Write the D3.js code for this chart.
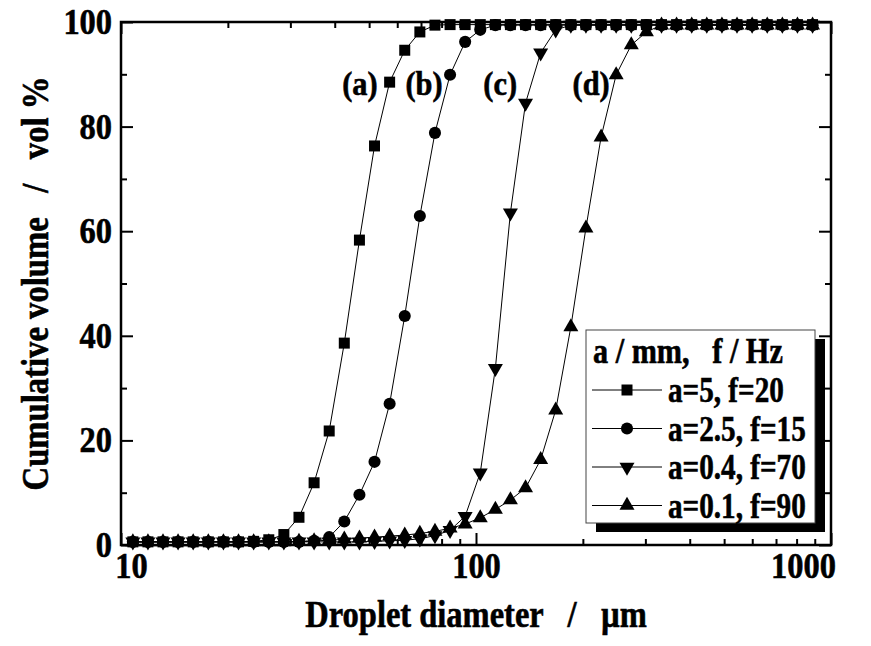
<!DOCTYPE html>
<html>
<head>
<meta charset="utf-8">
<script src="https://cdn.jsdelivr.net/npm/d3@7"></script>
<style>
  body { margin: 0; background: #fff; }
  svg text { font-family: "Liberation Serif", "Times New Roman", serif; font-weight: bold; fill: #000; stroke: #000; stroke-width: 0.6px; }
</style>
</head>
<body>
<div id="chart"></div>
<script>
// droplet diameters (um), one per analyser bin
const sizes = [10.80, 11.91, 13.13, 14.48, 15.97, 17.62, 19.43, 21.43, 23.64, 26.08,
  28.76, 31.72, 34.99, 38.59, 42.56, 46.95, 51.78, 57.11, 62.99, 69.48,
  76.63, 84.52, 93.20, 102.8, 113.4, 125.0, 137.9, 152.1, 167.7, 185.0,
  204.0, 225.1, 248.2, 273.8, 302.0, 333.1, 367.3, 405.2, 446.8, 492.9,
  543.6, 599.6, 661.3, 729.4, 804.4, 887.2];

// cumulative volume (%)
const seriesA = [0.6, 0.6, 0.6, 0.6, 0.6, 0.6, 0.6, 0.6, 0.7, 1.0,
  2.0, 5.3, 11.9, 21.8, 38.6, 58.3, 76.3, 88.5, 94.6, 98.1,
  99.4, 99.5, 99.5, 99.5, 99.5, 99.5, 99.5, 99.5, 99.5, 99.5,
  99.5, 99.5, 99.5, 99.5, 99.5, 99.5, 99.5, 99.5, 99.5, 99.5,
  99.5, 99.5, 99.5, 99.5, 99.5, 99.5];
const seriesB = [0.6, 0.6, 0.6, 0.6, 0.6, 0.6, 0.6, 0.6, 0.6, 0.6,
  0.6, 0.6, 0.8, 1.5, 4.5, 9.6, 15.9, 27.0, 43.8, 62.9,
  78.8, 89.9, 96.2, 98.5, 99.4, 99.4, 99.4, 99.4, 99.4, 99.4,
  99.4, 99.4, 99.4, 99.4, 99.4, 99.4, 99.4, 99.4, 99.4, 99.4,
  99.4, 99.4, 99.4, 99.4, 99.4, 99.4];
const seriesC = [0.6, 0.6, 0.6, 0.6, 0.6, 0.6, 0.6, 0.6, 0.6, 0.6,
  0.6, 0.6, 0.6, 0.6, 0.6, 0.6, 0.7, 0.8, 0.9, 1.2,
  1.8, 2.8, 5.5, 13.8, 33.8, 63.5, 84.5, 94.1, 98.5, 99.4,
  99.4, 99.4, 99.4, 99.4, 99.4, 99.4, 99.4, 99.4, 99.4, 99.4,
  99.4, 99.4, 99.4, 99.4, 99.4, 99.4];
const seriesD = [0.6, 0.6, 0.6, 0.6, 0.6, 0.6, 0.6, 0.6, 0.6, 0.6,
  0.6, 0.7, 0.8, 0.9, 1.1, 1.3, 1.5, 1.7, 1.9, 2.2,
  2.6, 3.2, 4.0, 5.2, 6.8, 8.6, 10.9, 16.3, 25.8, 41.7,
  60.6, 78.0, 89.9, 95.6, 98.1, 99.4, 99.4, 99.4, 99.4, 99.4,
  99.4, 99.4, 99.4, 99.4, 99.4, 99.4];

const seriesNames = ["a=5, f=20", "a=2.5, f=15", "a=0.4, f=70", "a=0.1, f=90"];
const curveLabels = ["(a)", "(b)", "(c)", "(d)"];
const yTicks = [0, 20, 40, 60, 80, 100];
const xTicks = [10, 100, 1000];

const W = 871, H = 646;
const margin = { top: 22, right: 40, bottom: 101, left: 121 };
const width = W - margin.left - margin.right;
const height = H - margin.top - margin.bottom;

const svg = d3.select("#chart").append("svg")
  .attr("width", W)
  .attr("height", H);

const g = svg.append("g")
  .attr("transform", `translate(${margin.left},${margin.top})`);

const x = d3.scaleLog().domain([10, 1000]).range([0, width]);
const y = d3.scaleLinear().domain([0, 100]).range([height, 0]);

const minorX = [20, 30, 40, 50, 60, 70, 80, 90, 200, 300, 400, 500, 600, 700, 800, 900];
const minorY = [10, 30, 50, 70, 90];

// the original lettering is a narrow, heavy Times
function condense(sel, k) {
  sel.each(function() {
    const len = this.getComputedTextLength();
    d3.select(this).attr("textLength", len * k).attr("lengthAdjust", "spacingAndGlyphs");
  });
}

function styleAxis(ax) {
  ax.select(".domain").remove();
  ax.selectAll("line").attr("stroke", "#000").attr("stroke-width", 2);
  ax.selectAll("text").style("font-size", "36px").call(condense, 0.9);
}

// bottom
const xAxisG = g.append("g").attr("transform", `translate(0,${height})`)
  .call(d3.axisBottom(x).tickValues(xTicks).tickFormat(d3.format("d"))
    .tickSizeInner(-12).tickSizeOuter(0).tickPadding(7))
  .call(styleAxis);
// end labels sit a little inside the frame, as in the original
xAxisG.selectAll(".tick text").attr("dx", d => d === 10 ? 10 : d === 1000 ? -28 : 0);
g.append("g").attr("transform", `translate(0,${height})`)
  .call(d3.axisBottom(x).tickValues(minorX).tickFormat("").tickSizeInner(-6).tickSizeOuter(0))
  .call(styleAxis);
// top
g.append("g")
  .call(d3.axisTop(x).tickValues(xTicks).tickFormat("").tickSizeInner(-12).tickSizeOuter(0))
  .call(styleAxis);
g.append("g")
  .call(d3.axisTop(x).tickValues(minorX).tickFormat("").tickSizeInner(-6).tickSizeOuter(0))
  .call(styleAxis);
// left
g.append("g")
  .call(d3.axisLeft(y).tickValues(yTicks).tickFormat(d3.format("d"))
    .tickSizeInner(-12).tickSizeOuter(0).tickPadding(9))
  .call(styleAxis);
g.append("g")
  .call(d3.axisLeft(y).tickValues(minorY).tickFormat("").tickSizeInner(-6).tickSizeOuter(0))
  .call(styleAxis);
// right
g.append("g").attr("transform", `translate(${width},0)`)
  .call(d3.axisRight(y).tickValues(yTicks).tickFormat("").tickSizeInner(-12).tickSizeOuter(0))
  .call(styleAxis);
g.append("g").attr("transform", `translate(${width},0)`)
  .call(d3.axisRight(y).tickValues(minorY).tickFormat("").tickSizeInner(-6).tickSizeOuter(0))
  .call(styleAxis);

g.append("rect")
  .attr("width", width)
  .attr("height", height)
  .attr("fill", "none")
  .attr("stroke", "#000")
  .attr("stroke-width", 2.5);

// marker shapes
function triPath(w, h, down) {
  const s = down ? -1 : 1;
  return `M0,${-s * h * 2 / 3}L${w / 2},${s * h / 3}L${-w / 2},${s * h / 3}Z`;
}
const shapes = [
  d3.symbol().type(d3.symbolSquare).size(121)(),
  d3.symbol().type(d3.symbolCircle).size(115)(),
  triPath(15, 13, true),
  triPath(15, 13, false)
];

const allSeries = [seriesA, seriesB, seriesC, seriesD];
const line = d3.line()
  .x((d, i) => x(sizes[i]))
  .y(d => y(d));

allSeries.forEach((vals, k) => {
  g.append("path")
    .datum(vals)
    .attr("d", line)
    .attr("fill", "none")
    .attr("stroke", "#000")
    .attr("stroke-width", 1);
  g.selectAll(".m" + k)
    .data(vals)
    .enter()
    .append("path")
    .attr("class", "m" + k)
    .attr("d", shapes[k])
    .attr("transform", (d, i) => `translate(${x(sizes[i])},${y(d)})`)
    .attr("fill", "#000");
});

// curve labels
const labelAt = [[47.1, 86], [71.4, 86], [117, 86], [211, 86]];
curveLabels.forEach((t, k) => {
  g.append("text")
    .attr("x", x(labelAt[k][0]))
    .attr("y", y(labelAt[k][1]))
    .attr("text-anchor", "middle")
    .style("font-size", "33px")
    .text(t)
    .call(condense, 0.92);
});

// legend
const lg = svg.append("g").attr("transform", "translate(586,330)");
lg.append("rect").attr("x", 10).attr("y", 9).attr("width", 229).attr("height", 193).attr("fill", "#000");
lg.append("rect").attr("width", 229).attr("height", 193).attr("fill", "#fff")
  .attr("stroke", "#444").attr("stroke-width", 1);
lg.append("text")
  .attr("x", 7).attr("y", 33)
  .style("font-size", "36px")
  .style("white-space", "pre")
  .text("a / mm,   f / Hz")
  .call(condense, 0.84);
seriesNames.forEach((name, k) => {
  const cy = 60 + k * 38.5;
  lg.append("line").attr("x1", 6).attr("x2", 76).attr("y1", cy).attr("y2", cy)
    .attr("stroke", "#000").attr("stroke-width", 1);
  lg.append("path").attr("d", shapes[k]).attr("transform", `translate(41,${cy})`).attr("fill", "#000");
  lg.append("text")
    .attr("x", 82).attr("y", cy + 12)
    .style("font-size", "36px")
    .text(name)
    .call(condense, 0.81);
});

// axis titles
svg.append("text")
  .attr("x", margin.left + width / 2)
  .attr("y", 627)
  .attr("text-anchor", "middle")
  .style("font-size", "38px")
  .style("white-space", "pre")
  .text("Droplet diameter   /   \u00b5m")
  .call(condense, 0.855);

svg.append("text")
  .attr("transform", `translate(48,${margin.top + height / 2}) rotate(-90)`)
  .attr("text-anchor", "middle")
  .style("font-size", "38px")
  .style("white-space", "pre")
  .text("Cumulative volume   /   vol %")
  .call(condense, 0.86);
</script>
</body>
</html>
